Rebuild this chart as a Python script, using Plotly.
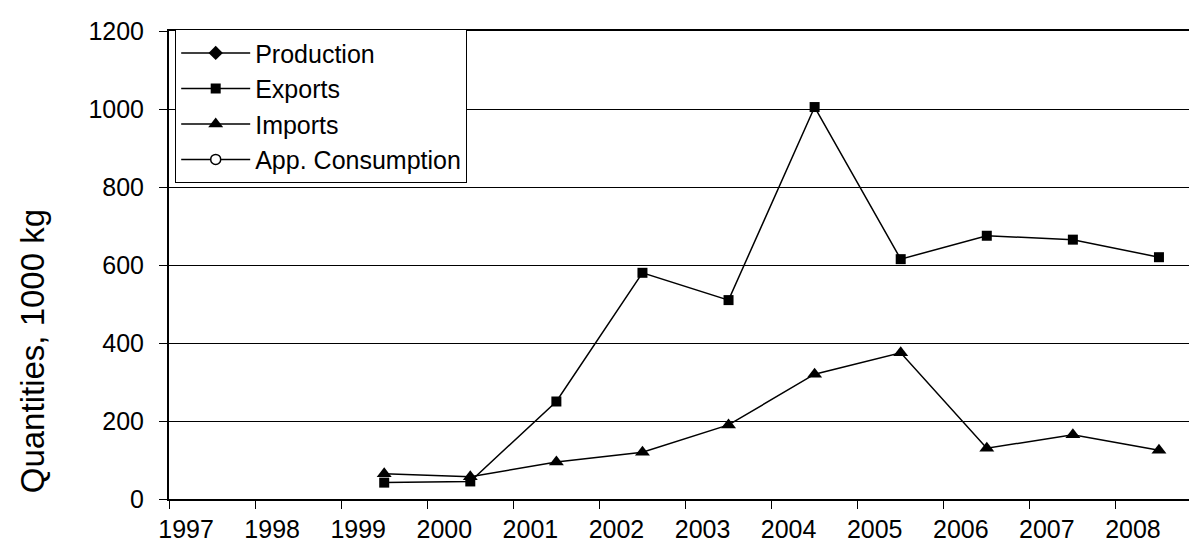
import plotly.graph_objects as go

years = ['1997', '1998', '1999', '2000', '2001', '2002', '2003', '2004', '2005', '2006', '2007', '2008']
production = [None] * 12
exports = [None, None, 42, 45, 250, 580, 510, 1005, 615, 675, 665, 620]
imports = [None, None, 65, 57, 95, 120, 190, 320, 375, 130, 165, 125]
consumption = [None] * 12
y_ticks = [0, 200, 400, 600, 800, 1000, 1200]

FONT = "Liberation Sans, Arial, sans-serif"

fig = go.Figure()
series = [
    ("Production", production, dict(symbol="diamond", size=11, color="black")),
    ("Exports", exports, dict(symbol="square", size=10, color="black")),
    ("Imports", imports, dict(symbol="triangle-up", size=13, color="black")),
    ("App. Consumption", consumption,
     dict(symbol="circle", size=10, color="white", line=dict(color="black", width=1.5))),
]
for name, vals, mk in series:
    fig.add_trace(go.Scatter(
        x=years, y=vals, name=name, mode="lines+markers",
        line=dict(color="black", width=1.5), marker=mk, connectgaps=False,
        showlegend=True,
    ))

fig.update_layout(
    width=1197, height=556,
    margin=dict(l=161, r=1, t=23, b=65),
    paper_bgcolor="white", plot_bgcolor="white",
    font=dict(family=FONT, color="black", size=25),
    showlegend=True,
    legend=dict(
        x=0.006, y=1.004, xanchor="left", yanchor="top",
        bgcolor="white", bordercolor="black", borderwidth=1,
        font=dict(family=FONT, size=25, color="black"),
        itemwidth=69, tracegroupgap=0,
    ),
    xaxis=dict(
        type="category", categoryorder="array", categoryarray=years,
        range=[-0.5, 11.5], showgrid=False,
        showline=True, linecolor="black", linewidth=1.5, mirror=True,
        ticks="outside", tickson="boundaries", ticklen=8, tickcolor="black",
        tickfont=dict(family=FONT, size=25, color="black"),
        ticklabelstandoff=7, ticklabelshift=-26,
    ),
    yaxis=dict(
        range=[0, 1200], tickvals=y_ticks, showgrid=True, gridcolor="black", gridwidth=1,
        showline=True, linecolor="black", linewidth=2, mirror=True,
        ticks="outside", ticklen=8, tickcolor="black",
        tickfont=dict(family=FONT, size=25, color="black"),
        ticklabelstandoff=10, zeroline=False,
    ),
    annotations=[dict(
        text="Quantities, 1000 kg", xref="paper", yref="paper",
        x=(24 - 161) / 1035, y=(491 - 343) / 468, xanchor="center", yanchor="middle",
        textangle=-90, showarrow=False, font=dict(family=FONT, size=33, color="black"),
    )],
)

fig.write_html("out.html")
